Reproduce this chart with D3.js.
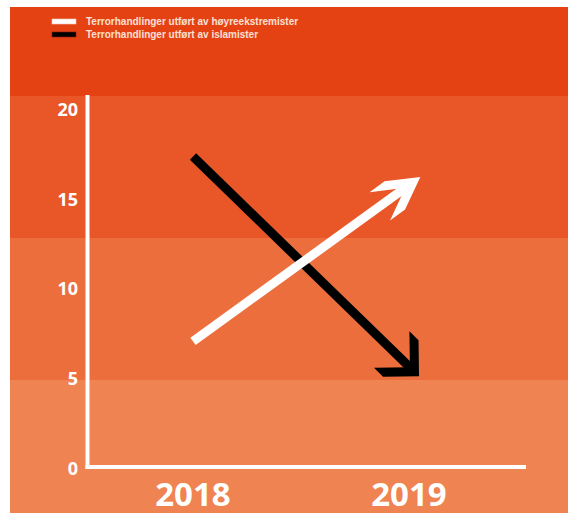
<!DOCTYPE html>
<html>
<head>
<meta charset="utf-8">
<script src="https://cdn.jsdelivr.net/npm/d3@7"></script>
<style>
  body { margin: 0; background: #fff; }
  svg { display: block; }
</style>
</head>
<body>
<div id="chart"></div>
<script>
(function(){
	// data
	var years = [2018, 2019];
	var seriesNames = ["Terrorhandlinger utført av høyreekstremister", "Terrorhandlinger utført av islamister"];
	var rightWing = [7, 15.7];
	var islamist = [17.3, 5.6];
	var yTicks = [0, 5, 10, 15, 20];

	var width = 568, height = 515;

	var svg = d3.select("#chart").append("svg")
		.attr("width", width)
		.attr("height", height);

	// background bands (decorative)
	var bands = [
		{y0: 7, y1: 96, fill: "#e54213"},
		{y0: 96, y1: 238, fill: "#e95729"},
		{y0: 238, y1: 380, fill: "#ec6e3c"},
		{y0: 380, y1: 513, fill: "#ef8352"}
	];
	svg.selectAll("rect.band")
		.data(bands)
		.enter().append("rect")
			.attr("class", "band")
			.attr("x", 10)
			.attr("y", function(d){ return d.y0 })
			.attr("width", width - 10)
			.attr("height", function(d){ return d.y1 - d.y0 })
			.style("fill", function(d){ return d.fill });

	var x = d3.scalePoint()
		.domain(years)
		.range([193, 409]);

	var y = d3.scaleLinear()
		.domain([0, 20])
		.range([467, 108]);

	var font = "'Open Sans', 'DejaVu Sans', sans-serif";

	// axes lines
	svg.append("line")
		.attr("x1", 87.5).attr("x2", 87.5)
		.attr("y1", 95).attr("y2", y(0) + 2)
		.attr("stroke", "#fff")
		.attr("stroke-width", 4);
	svg.append("line")
		.attr("x1", 85.5).attr("x2", 526)
		.attr("y1", y(0)).attr("y2", y(0))
		.attr("stroke", "#fff")
		.attr("stroke-width", 4);

	// y tick labels
	svg.selectAll("text.ytick")
		.data(yTicks)
		.enter().append("text")
			.attr("class", "ytick")
			.attr("x", 78)
			.attr("y", function(d){ return y(d) + 3 })
			.attr("text-anchor", "end")
			.attr("dominant-baseline", "middle")
			.style("font-family", font)
			.style("font-weight", 700)
			.style("font-size", "18px")
			.style("fill", "#fff")
			.text(function(d){ return d });

	// x labels
	svg.selectAll("text.xtick")
		.data(years)
		.enter().append("text")
			.attr("class", "xtick")
			.attr("x", function(d){ return x(d) })
			.attr("y", 506)
			.attr("text-anchor", "middle")
			.style("font-family", font)
			.style("font-weight", 700)
			.style("font-size", "33px")
			.style("fill", "#fff")
			.text(function(d){ return d });

	// arrows
	var series = [
		{values: islamist, color: "#000", half: 45},
		{values: rightWing, color: "#fff", half: 29}
	];
	var thick = 9, wing = 36, overshoot = 14;

	series.forEach(function(s){
		var p1 = [x(years[0]), y(s.values[0])];
		var p2 = [x(years[1]), y(s.values[1])];
		var dx = p2[0] - p1[0], dy = p2[1] - p1[1];
		var len = Math.sqrt(dx*dx + dy*dy);
		var u = [dx/len, dy/len];          // forward
		var tip = [p2[0] + u[0]*overshoot, p2[1] + u[1]*overshoot];
		var a = s.half * Math.PI / 180;
		var back = [-u[0], -u[1]];
		function rot(v, ang){ return [v[0]*Math.cos(ang) - v[1]*Math.sin(ang), v[0]*Math.sin(ang) + v[1]*Math.cos(ang)] }
		var w1 = rot(back, a), w2 = rot(back, -a);
		var W1 = [tip[0] + w1[0]*wing, tip[1] + w1[1]*wing];
		var W2 = [tip[0] + w2[0]*wing, tip[1] + w2[1]*wing];
		var d = thick / Math.sin(a);
		var off = function(p){ return [p[0] + back[0]*d, p[1] + back[1]*d] };
		var notch = off(tip);

		svg.append("line")
			.attr("x1", p1[0]).attr("y1", p1[1])
			.attr("x2", notch[0] + u[0]*2).attr("y2", notch[1] + u[1]*2)
			.attr("stroke", s.color)
			.attr("stroke-width", thick);

		svg.append("path")
			.attr("d", d3.line()([tip, W1, off(W1), notch, off(W2), W2]) + "Z")
			.attr("fill", s.color);
	});

	// legend
	var legend = svg.append("g");
	var legendColors = ["#fff", "#000"];
	legend.selectAll("rect")
		.data(seriesNames)
		.enter().append("rect")
			.attr("x", 52)
			.attr("y", function(d, i){ return 19 + i*13 })
			.attr("width", 24)
			.attr("height", 5)
			.attr("fill", function(d, i){ return legendColors[i] })
			.attr("stroke", function(d, i){ return i ? "#7a1a05" : "#f6c7b4" })
			.attr("stroke-width", 0.6);
	legend.selectAll("text")
		.data(seriesNames)
		.enter().append("text")
			.attr("x", 86)
			.attr("y", function(d, i){ return 25 + i*13 })
			.style("font-family", "'Liberation Sans', Arial, sans-serif")
			.style("font-weight", 700)
			.style("font-size", "10px")
			.style("fill", "#fbe0d4")
			.text(function(d){ return d });
})();
</script>
</body>
</html>
